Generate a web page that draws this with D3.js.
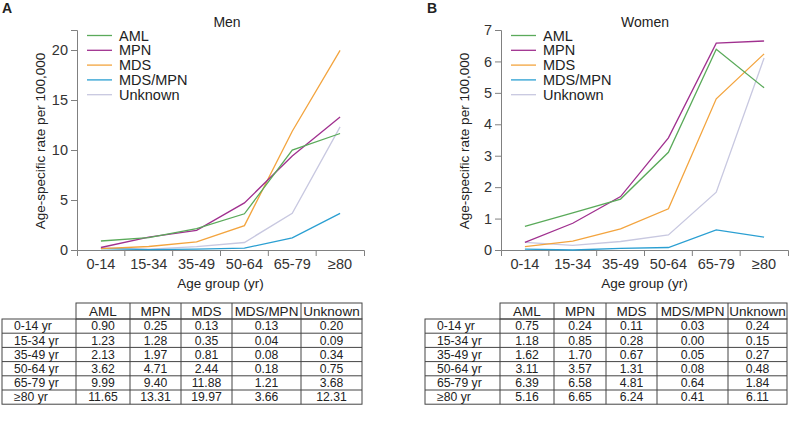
<!DOCTYPE html>
<html>
<head>
<meta charset="utf-8">
<script src="https://cdn.jsdelivr.net/npm/d3@7"></script>
<style>
  body { margin: 0; background: #fff; }
  svg { font-family: "Liberation Sans", Arial, sans-serif; }
  .axis path, .axis line { stroke: #808080; }
  .axis text { fill: #333; font-size: 14.5px; }
</style>
</head>
<body>
<svg id="chart" width="789" height="426"></svg>
<script>
var ageGroups = ["0-14", "15-34", "35-49", "50-64", "65-79", "≥80"];
var rowLabels = ["0-14 yr", "15-34 yr", "35-49 yr", "50-64 yr", "65-79 yr", "≥80 yr"];
var subtypes = ["AML", "MPN", "MDS", "MDS/MPN", "Unknown"];

var menAML = [0.90, 1.23, 2.13, 3.62, 9.99, 11.65];
var menMPN = [0.25, 1.28, 1.97, 4.71, 9.40, 13.31];
var menMDS = [0.13, 0.35, 0.81, 2.44, 11.88, 19.97];
var menMDSMPN = [0.13, 0.04, 0.08, 0.18, 1.21, 3.66];
var menUnknown = [0.20, 0.09, 0.34, 0.75, 3.68, 12.31];

var womenAML = [0.75, 1.18, 1.62, 3.11, 6.39, 5.16];
var womenMPN = [0.24, 0.85, 1.70, 3.57, 6.58, 6.65];
var womenMDS = [0.11, 0.28, 0.67, 1.31, 4.81, 6.24];
var womenMDSMPN = [0.03, 0.00, 0.05, 0.08, 0.64, 0.41];
var womenUnknown = [0.24, 0.15, 0.27, 0.48, 1.84, 6.11];

var menTicks = [0, 5, 10, 15, 20];
var womenTicks = [0, 1, 2, 3, 4, 5, 6, 7];

var color = d3.scaleOrdinal()
  .domain(subtypes)
  .range(["#5aaa5a", "#a0308f", "#f3a43e", "#2a9fd2", "#c8c8e0"]);

var svg = d3.select("#chart");

function fmt(v) { return v.toFixed(2); }

function drawPanel(opt) {
  var g = svg.append("g");
  var series = opt.series;

  var x = d3.scaleBand().domain(ageGroups).range([opt.x0, opt.x1]);
  var y = d3.scaleLinear().domain([0, opt.yMax]).range([250, 30]);

  // y axis
  g.append("g").attr("class", "axis")
    .attr("transform", "translate(" + opt.x0 + ",0)")
    .call(d3.axisLeft(y).tickValues(opt.ticks).tickFormat(d3.format("d"))
      .tickSizeInner(6).tickSizeOuter(6));

  // x axis, ticks on band edges
  var xa = g.append("g").attr("class", "axis")
    .attr("transform", "translate(0,250)")
    .call(d3.axisBottom(x).tickSizeInner(0).tickSizeOuter(6).tickPadding(9));
  xa.selectAll(".edge").data(ageGroups.slice(1)).enter().append("line")
    .attr("x1", function(d) { return x(d); })
    .attr("x2", function(d) { return x(d); })
    .attr("y1", 0).attr("y2", 6)
    .attr("stroke", "#808080");

  var line = d3.line()
    .x(function(d, i) { return x(ageGroups[i]) + x.bandwidth() / 2; })
    .y(function(d) { return y(d); });

  // draw back to front so AML sits on top
  subtypes.slice().reverse().forEach(function(s) {
    g.append("path")
      .datum(series[s])
      .attr("d", line)
      .attr("fill", "none")
      .attr("stroke", color(s))
      .attr("stroke-width", 1.3);
  });

  // legend
  subtypes.forEach(function(s, i) {
    var ly = 35.5 + i * 14.8;
    g.append("line")
      .attr("x1", opt.x0 + 10).attr("x2", opt.x0 + 35)
      .attr("y1", ly).attr("y2", ly)
      .attr("stroke", color(s)).attr("stroke-width", 1.3);
    g.append("text")
      .attr("x", opt.x0 + 42).attr("y", ly).attr("dy", "0.35em")
      .attr("font-size", 14.5).attr("fill", "#222")
      .text(s);
  });

  // titles
  g.append("text").attr("x", opt.titleX).attr("y", 27)
    .attr("text-anchor", "middle").attr("font-size", 14).attr("fill", "#222")
    .text(opt.title);
  g.append("text").attr("x", opt.letterX).attr("y", 13)
    .attr("font-size", 14).attr("font-weight", "bold").attr("fill", "#222")
    .text(opt.letter);
  g.append("text")
    .attr("transform", "translate(" + (opt.x0 - 37) + ",141) rotate(-90)")
    .attr("text-anchor", "middle").attr("dy", "0.35em")
    .attr("font-size", 13.5).attr("fill", "#222")
    .text("Age-specific rate per 100,000");
  g.append("text").attr("x", (opt.x0 + opt.x1) / 2).attr("y", 288)
    .attr("text-anchor", "middle").attr("font-size", 13.5).attr("fill", "#222")
    .text("Age group (yr)");

  drawTable(opt, series);
}

function drawTable(opt, series) {
  var cols = opt.cols; // column edges, first one is the label column's right side
  var top = 303, headH = 16, rowH = 14.2;
  var t = svg.append("g")
    .attr("fill", "none").attr("stroke", "#444").attr("stroke-width", 1);
  var bottom = top + headH + rowH * ageGroups.length;

  // header cells
  t.append("rect")
    .attr("x", cols[0]).attr("y", top)
    .attr("width", cols[cols.length - 1] - cols[0]).attr("height", headH);
  // body
  t.append("rect")
    .attr("x", opt.tableLeft).attr("y", top + headH)
    .attr("width", cols[cols.length - 1] - opt.tableLeft).attr("height", bottom - top - headH);
  ageGroups.slice(1).forEach(function(d, i) {
    var ry = top + headH + rowH * (i + 1);
    t.append("line").attr("x1", opt.tableLeft).attr("x2", cols[cols.length - 1])
      .attr("y1", ry).attr("y2", ry);
  });
  cols.slice(0, -1).forEach(function(cx, i) {
    t.append("line").attr("x1", cx).attr("x2", cx)
      .attr("y1", i === 0 ? top + headH : top).attr("y2", bottom);
  });

  var txt = svg.append("g").attr("font-size", 12.2).attr("fill", "#222");
  subtypes.forEach(function(s, j) {
    var cx = (cols[j] + cols[j + 1]) / 2;
    txt.append("text").attr("x", cx).attr("y", top + headH / 2).attr("dy", "0.35em")
      .attr("font-size", 13.5)
      .attr("text-anchor", "middle").text(s);
    series[s].forEach(function(v, i) {
      txt.append("text").attr("x", cx)
        .attr("y", top + headH + rowH * (i + 0.5)).attr("dy", "0.35em")
        .attr("text-anchor", "middle").text(fmt(v));
    });
  });
  rowLabels.forEach(function(r, i) {
    txt.append("text").attr("x", opt.tableLeft + 12)
      .attr("y", top + headH + rowH * (i + 0.5)).attr("dy", "0.35em")
      .text(r);
  });
}

drawPanel({
  title: "Men", letter: "A", letterX: 2, titleX: 227,
  x0: 77, x1: 364, yMax: 22, ticks: menTicks,
  tableLeft: 2, cols: [76, 130, 181, 232, 301, 362],
  series: { "AML": menAML, "MPN": menMPN, "MDS": menMDS, "MDS/MPN": menMDSMPN, "Unknown": menUnknown }
});

drawPanel({
  title: "Women", letter: "B", letterX: 427, titleX: 645,
  x0: 501, x1: 788, yMax: 7, ticks: womenTicks,
  tableLeft: 425, cols: [500, 554, 606, 657, 728, 787],
  series: { "AML": womenAML, "MPN": womenMPN, "MDS": womenMDS, "MDS/MPN": womenMDSMPN, "Unknown": womenUnknown }
});
</script>
</body>
</html>
